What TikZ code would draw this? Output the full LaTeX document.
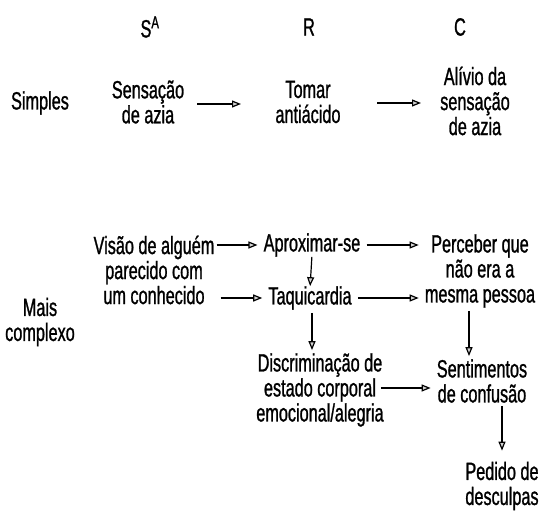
\documentclass[tikz,border=0pt]{standalone}
\usepackage{fontspec}
\setmainfont{Liberation Sans}[FakeStretch=0.65,FakeBold=1]
\usetikzlibrary{arrows.meta}
\begin{document}
\begin{tikzpicture}[x=1pt,y=-1pt,
  txt/.style={align=center,inner xsep=4pt,inner ysep=1pt,font=\fontsize{25}{25}\selectfont},
  seta/.style={-{Triangle[length=9pt,width=7pt,fill=gray!35]},line width=1.2pt,shorten <=2pt,shorten >=2pt}]
\useasboundingbox (0,0) rectangle (558,529);
% cabecalho
\node [txt] (hS) at (150,27) {S\textsuperscript{A}};
\node [txt] (hR) at (309,27) {R};
\node [txt] (hC) at (460,27) {C};
% simples
\node [txt] (simples) at (40,103) {Simples};
\node [txt] (sens) at (148,102) {Sensação\\de azia};
\node [txt] (tomar) at (308,102) {Tomar\\antiácido};
\node [txt] (alivio) at (475,101) {Alívio da\\sensação\\de azia};
\draw [seta] (195,104) -- (243,104);
\draw [seta] (375,103) -- (423,103);
% mais complexo
\node [txt] (mais) at (40,322) {Mais\\complexo};
\node [txt] (visao) at (154,270) {Visão de alguém\\parecido com\\um conhecido};
\node [txt] (aprox) at (312,245) {Aproximar-se};
\node [txt] (taqui) at (310,298) {Taquicardia};
\node [txt] (perc) at (480,271) {Perceber que\\não era a\\mesma pessoa};
\node [txt] (disc) at (320,390) {Discriminação de\\estado corporal\\emocional/alegria};
\node [txt] (sent) at (482,381) {Sentimentos\\de confusão};
\node [txt] (pedido) at (502,486) {Pedido de\\desculpas};
\draw [seta] ([xshift=-4pt]visao.east |- aprox) -- (aprox.west);
\draw [seta] (visao.east |- taqui) -- (taqui.west);
\draw [seta] (aprox.east) -- (perc.west |- aprox);
\draw [seta] (taqui.east) -- (perc.west |- taqui);
\draw [seta] ([yshift=3pt]aprox.south) -- ([yshift=-3pt]taqui.north);
\draw [seta] ([xshift=2pt]taqui.south) -- ([xshift=2pt]taqui.south |- disc.north);
\draw [seta] ([xshift=-11pt]perc.south) -- ([xshift=-11pt]perc.south |- sent.north);
\draw [seta] ([xshift=-9pt,yshift=2pt]disc.east) -- ([yshift=2pt]sent.west |- disc.east);
\draw [seta] (sent.south -| pedido.north) -- ([yshift=8pt]pedido.north);
\end{tikzpicture}
\end{document}
